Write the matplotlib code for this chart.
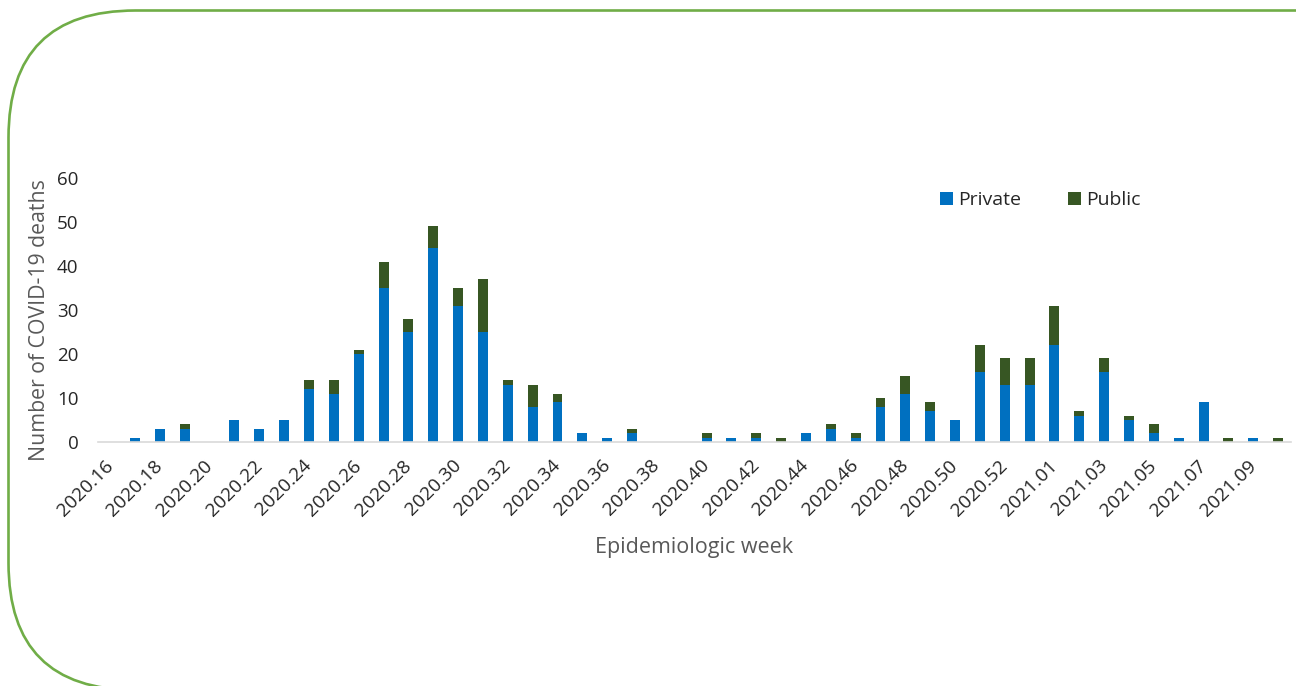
import matplotlib
matplotlib.use("Agg")
import matplotlib.pyplot as plt
from matplotlib.patches import FancyBboxPatch
from matplotlib.transforms import IdentityTransform
import numpy as np

weeks = ["2020.16", "2020.17", "2020.18", "2020.19", "2020.20", "2020.21", "2020.22", "2020.23",
         "2020.24", "2020.25", "2020.26", "2020.27", "2020.28", "2020.29", "2020.30", "2020.31",
         "2020.32", "2020.33", "2020.34", "2020.35", "2020.36", "2020.37", "2020.38", "2020.39",
         "2020.40", "2020.41", "2020.42", "2020.43", "2020.44", "2020.45", "2020.46", "2020.47",
         "2020.48", "2020.49", "2020.50", "2020.51", "2020.52", "2020.53", "2021.01", "2021.02",
         "2021.03", "2021.04", "2021.05", "2021.06", "2021.07", "2021.08", "2021.09", "2021.10"]
private = [0, 1, 3, 3, 0, 5, 3, 5,
           12, 11, 20, 35, 25, 44, 31, 25,
           13, 8, 9, 2, 1, 2, 0, 0,
           1, 1, 1, 0, 2, 3, 1, 8,
           11, 7, 5, 16, 13, 13, 22, 6,
           16, 5, 2, 1, 9, 0, 1, 0]
public = [0, 0, 0, 1, 0, 0, 0, 0,
          2, 3, 1, 6, 3, 5, 4, 12,
          1, 5, 2, 0, 0, 1, 0, 0,
          1, 0, 1, 1, 0, 1, 1, 2,
          4, 2, 0, 6, 6, 6, 9, 1,
          3, 1, 2, 0, 0, 1, 0, 1]
yticks = [0, 10, 20, 30, 40, 50, 60]

W, H = 1296, 686
fig = plt.figure(figsize=(W / 100, H / 100), dpi=100)
fig.patch.set_facecolor("white")

FONT = "Open Sans"
plt.rcParams["font.family"] = [FONT, "DejaVu Sans"]

# rounded green frame
frame = FancyBboxPatch((8.5, -4), 1500, 679.5,
                       boxstyle="round,pad=0,rounding_size=127",
                       transform=IdentityTransform(), facecolor="none",
                       edgecolor="#70AD47", linewidth=1.9)
fig.add_artist(frame)

left, right, top, bottom = 97.8, 1290.5, 178, 442
ax = fig.add_axes([left / W, 1 - bottom / H, (right - left) / W, (bottom - top) / H])

x = np.arange(len(weeks))
blue = "#0070C0"
green = "#375623"
ax.bar(x, private, width=0.4, color=blue, label="Private", zorder=2)
ax.bar(x, public, width=0.4, bottom=private, color=green, label="Public", zorder=2)

ax.set_xlim(-0.5, len(weeks) - 0.5)
ax.set_ylim(0, 60)
ax.set_yticks(yticks)
ax.set_yticklabels([str(v) for v in yticks])

ax.set_xticks(x[::2])
ax.set_xticklabels(weeks[::2], rotation=45, ha="right", va="center",
                   rotation_mode="anchor")

for s in ["top", "right", "left"]:
    ax.spines[s].set_visible(False)
ax.spines["bottom"].set_color("#D9D9D9")
ax.spines["bottom"].set_linewidth(1.2)
ax.tick_params(axis="y", length=0, pad=14, labelsize=13.5, labelcolor="#262626")
ax.tick_params(axis="x", length=0, pad=15, labelsize=13.8, labelcolor="#262626")

fig.text(40 / W, 1 - 320 / H, "Number of COVID-19 deaths", rotation=90,
         ha="center", va="center", fontsize=15.3, color="#595959")
fig.text(694 / W, 1 - 547 / H, "Epidemiologic week", ha="center", va="center",
         fontsize=15.5, color="#595959")

leg = ax.legend(loc="center left", bbox_to_anchor=(940 / W, 1 - 200 / H),
                bbox_transform=fig.transFigure, ncol=2, frameon=False,
                fontsize=14, handlelength=0.65, handleheight=0.65,
                handletextpad=0.3, columnspacing=2.4, borderaxespad=0,
                borderpad=0)
for t in leg.get_texts():
    t.set_color("#262626")

fig.savefig("out.png", dpi=100, facecolor="white")
